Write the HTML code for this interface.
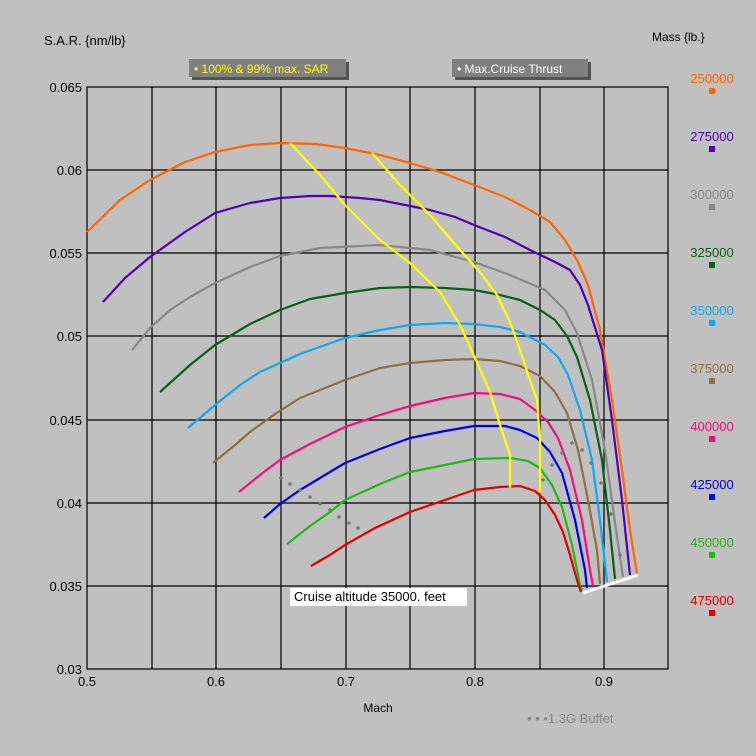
<!DOCTYPE html>
<html><head><meta charset="utf-8"><style>
body{margin:0;background:#c0c0c0;}
svg{display:block;font-family:"Liberation Sans",sans-serif;}
</style></head><body>
<svg width="756" height="756" viewBox="0 0 756 756">
<rect width="756" height="756" fill="#c0c0c0"/>
<g stroke="#000" stroke-width="1.2" fill="none">
<rect x="87" y="87" width="581" height="582"/>
<path d="M152 87V669M216 87V669M281 87V669M346 87V669M410 87V669M475 87V669M540 87V669M604 87V669"/>
<path d="M87 170H668M87 253H668M87 336H668M87 420H668M87 503H668M87 586H668"/>
</g>
<g font-size="13" fill="#000" text-anchor="end">
<text x="82" y="92">0.065</text><text x="82" y="175">0.06</text><text x="82" y="258">0.055</text>
<text x="82" y="341">0.05</text><text x="82" y="425">0.045</text><text x="82" y="508">0.04</text>
<text x="82" y="591">0.035</text><text x="82" y="674">0.03</text>
</g>
<g font-size="13" fill="#000" text-anchor="middle">
<text x="87" y="686">0.5</text><text x="216" y="686">0.6</text><text x="346" y="686">0.7</text>
<text x="475" y="686">0.8</text><text x="604" y="686">0.9</text>
<text x="378" y="712" font-size="12">Mach</text>
</g>
<text x="44" y="45" font-size="13">S.A.R. {nm/lb}</text>
<text x="652" y="41" font-size="12">Mass {lb.}</text>
<rect x="192" y="62" width="157" height="18" fill="#555"/>
<rect x="189" y="59" width="157" height="18" fill="#808080"/>
<text x="194" y="73" font-size="12" fill="#ffff00">• 100% &amp; 99% max. SAR</text>
<rect x="455" y="62" width="136" height="18" fill="#555"/>
<rect x="452" y="59" width="136" height="18" fill="#808080"/>
<text x="457" y="73" font-size="12" fill="#fff">• Max.Cruise Thrust</text>
<rect x="290" y="588" width="177" height="18" fill="#fff"/>
<text x="294" y="601" font-size="13" fill="#000">Cruise altitude 35000. feet</text>
<text x="527" y="723" font-size="13" fill="#888">• • •1.3G Buffet</text>
<g fill="none" stroke-width="2.2" stroke-linejoin="round">
<polyline stroke="#ff6600" points="87,232 120,200 150,180 185,162 215,152 250,145 280,143 315,144 345,148 380,155 410,163 440,172 474,185 505,197 530,210 550,222 565,240 578,262 588,285 600,330 612,400 622,470 630,530 637,574"/>
<polyline stroke="#5000b0" points="103,302 125,278 150,257 185,232 215,213 250,203 280,198 310,196 330,196 360,198 380,200 410,206 430,210 455,217 474,225 505,237 530,250 555,262 570,270 580,285 588,305 602,350 612,420 622,500 630,575"/>
<polyline stroke="#888888" points="132,350 150,328 170,310 190,297 215,283 250,267 280,256 320,248 380,245 430,250 474,262 510,275 545,290 565,310 577,333 592,380 605,450 616,530 623,577"/>
<polyline stroke="#0a6018" points="160,392 190,365 215,345 250,324 280,310 310,299 345,293 380,288 410,287 445,288 474,290 500,295 520,300 540,310 555,320 567,336 577,357 590,400 602,460 610,530 615,579"/>
<polyline stroke="#10a8f0" points="188,428 215,405 240,385 260,372 300,354 345,338 380,330 410,325 445,323 474,324 500,327 520,332 545,345 558,357 568,375 580,410 592,460 600,520 607,582"/>
<polyline stroke="#907040" points="213,463 235,445 250,432 275,414 300,398 345,380 380,368 410,363 445,360 474,359 500,361 520,366 540,376 555,392 567,413 578,450 588,500 597,550 600,584"/>
<polyline stroke="#f0107a" points="239,492 260,475 280,460 310,444 345,427 380,415 410,406 445,398 474,393 500,394 520,399 535,410 548,422 558,438 570,470 582,520 590,570 593,586"/>
<polyline stroke="#0000e0" points="264,518 280,504 300,490 320,478 345,463 380,449 410,438 445,431 474,426 505,426 520,430 537,438 550,452 562,473 575,520 585,570 587,588"/>
<polyline stroke="#20b818" points="287,544 310,526 330,512 345,500 380,484 410,472 445,465 474,459 510,458 528,461 540,468 552,485 562,507 572,545 580,585 582,590"/>
<polyline stroke="#e00000" points="311,566 330,555 345,545 375,528 410,512 445,500 474,490 500,487 520,486 535,491 545,500 555,515 563,532 570,555 577,580 581,592"/>
<polyline stroke="#ffff00" points="290,143 320,175 345,205 380,240 410,263 440,292 460,325 475,358 490,392 500,425 510,455 510,488"/>
<polyline stroke="#ffff00" points="372,153 400,185 430,215 460,250 480,272 497,295 510,322 520,350 530,380 537,400 540,440 540,493"/>
<polyline stroke="#fff" stroke-width="3" points="583,593 638,575"/>
</g>
<g fill="#777">
<circle cx="281" cy="478" r="1.8"/><circle cx="290" cy="484" r="1.8"/><circle cx="300" cy="490" r="1.8"/><circle cx="310" cy="497" r="1.8"/><circle cx="320" cy="504" r="1.8"/><circle cx="330" cy="510" r="1.8"/><circle cx="339" cy="517" r="1.8"/><circle cx="349" cy="523" r="1.8"/><circle cx="358" cy="528" r="1.8"/>
<circle cx="543" cy="480" r="1.8"/><circle cx="552" cy="465" r="1.8"/><circle cx="562" cy="453" r="1.8"/><circle cx="572" cy="443" r="1.8"/><circle cx="582" cy="450" r="1.8"/><circle cx="591" cy="463" r="1.8"/><circle cx="601" cy="483" r="1.8"/><circle cx="611" cy="514" r="1.8"/><circle cx="620" cy="555" r="1.8"/>
</g>
<g font-size="13" text-anchor="middle">
<text x="712" y="83" fill="#ff6600">250000</text><rect x="709" y="88" width="6" height="6" fill="#ff6600"/>
<text x="712" y="141" fill="#5000b0">275000</text><rect x="709" y="146" width="6" height="6" fill="#5000b0"/>
<text x="712" y="199" fill="#888">300000</text><rect x="709" y="204" width="6" height="6" fill="#888"/>
<text x="712" y="257" fill="#0a6018">325000</text><rect x="709" y="262" width="6" height="6" fill="#0a6018"/>
<text x="712" y="315" fill="#10a8f0">350000</text><rect x="709" y="320" width="6" height="6" fill="#10a8f0"/>
<text x="712" y="373" fill="#907040">375000</text><rect x="709" y="378" width="6" height="6" fill="#907040"/>
<text x="712" y="431" fill="#f0107a">400000</text><rect x="709" y="436" width="6" height="6" fill="#f0107a"/>
<text x="712" y="489" fill="#0000e0">425000</text><rect x="709" y="494" width="6" height="6" fill="#0000e0"/>
<text x="712" y="547" fill="#20b818">450000</text><rect x="709" y="552" width="6" height="6" fill="#20b818"/>
<text x="712" y="605" fill="#e00000">475000</text><rect x="709" y="610" width="6" height="6" fill="#e00000"/>
</g>
</svg>
</body></html>
